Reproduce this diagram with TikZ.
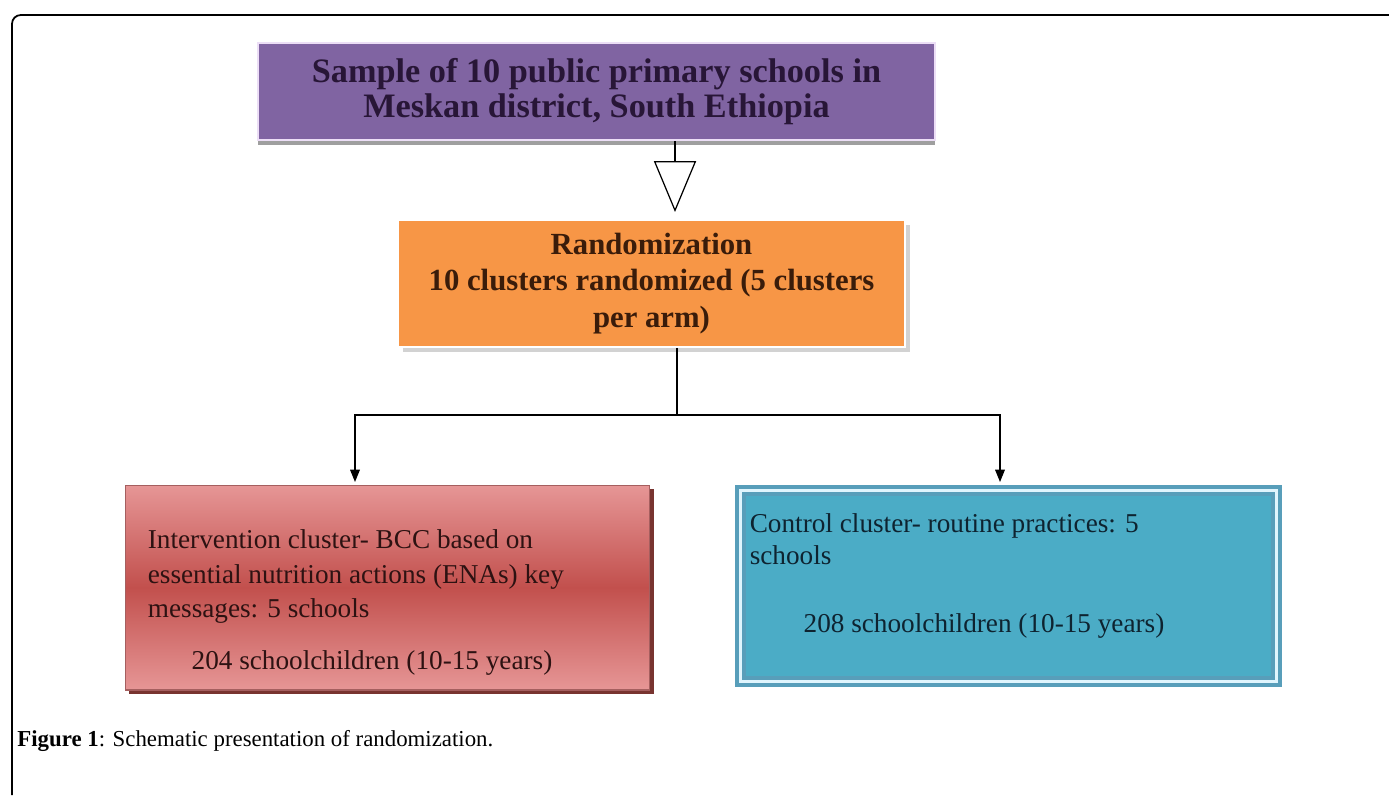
\documentclass[tikz,border=0pt]{standalone}
\usepackage{fontspec}
\setmainfont{Liberation Serif}
\usepackage{xcolor}
\usepackage{tikz}
\usetikzlibrary{arrows.meta,shadows,positioning}
\definecolor{samplebox}{RGB}{128,100,162}
\definecolor{sampleedge}{RGB}{236,222,246}
\definecolor{randbox}{RGB}{247,150,70}
\definecolor{intvlight}{RGB}{230,150,150}
\definecolor{intvdark}{RGB}{194,80,77}
\definecolor{intvedge}{RGB}{165,95,95}
\definecolor{intvshadow}{RGB}{120,52,48}
\definecolor{ctrlbox}{RGB}{75,172,198}
\definecolor{ctrledge}{RGB}{88,158,186}
\definecolor{sampleink}{RGB}{40,22,55}
\definecolor{randink}{RGB}{58,28,10}
\definecolor{intvink}{RGB}{45,18,18}
\definecolor{ctrlink}{RGB}{14,35,48}
\tikzset{
  samplestep/.style={rectangle,inner sep=0pt,align=center,
    font=\fontsize{19.5}{19.8}\selectfont\bfseries,text=sampleink,
    fill=samplebox,draw=sampleedge,line width=1.4pt,
    minimum width=13.54cm,minimum height=1.94cm,
    drop shadow={shadow xshift=0pt,shadow yshift=-3pt,fill=gray!75,opacity=1}},
  randstep/.style={rectangle,inner sep=0pt,align=center,
    font=\fontsize{17.5}{21}\selectfont\bfseries,text=randink,
    fill=randbox,draw=white,line width=1pt,
    minimum width=10.14cm,minimum height=2.54cm,
    drop shadow={shadow xshift=3pt,shadow yshift=-3pt,fill=gray!35,opacity=1}},
  intvstep/.style={rectangle,inner sep=0pt,
    top color=intvlight,bottom color=intvlight,middle color=intvdark,
    draw=intvedge,line width=0.6pt,
    minimum width=10.5cm,minimum height=4.1cm,
    drop shadow={shadow xshift=2.5pt,shadow yshift=-2.5pt,fill=intvshadow,opacity=1}},
  ctrlstep/.style={rectangle,inner sep=0pt,
    fill=ctrlbox,draw=ctrledge,double=white!88!cyan,double distance=1.5pt,line width=2.4pt,
    minimum width=10.72cm,minimum height=3.82cm},
  bodytext/.style={inner sep=0pt,align=left,font=\fontsize{15.5}{19.5}\selectfont},
  captiontext/.style={inner sep=0pt,font=\fontsize{13}{15}\selectfont},
  openarrow/.style={-{Triangle[open,length=29pt,width=24pt]},line width=0.7pt,black},
  flowline/.style={line width=0.7pt,black},
  flowarrow/.style={-{Triangle[length=7pt,width=5.5pt]},line width=0.7pt,black},
  frameline/.style={line width=1pt,black,rounded corners=5pt}
}
\begin{document}
\begin{tikzpicture}[x=0.02cm,y=-0.02cm]
  \useasboundingbox (0,0) rectangle (1389,795);
  \draw[frameline] (12,795) -- (12,15) -- (1389,15);

  \node[samplestep] (sample) at (596.5,91.5) {Sample of 10 public primary schools in\\Meskan district, South Ethiopia};
  \node[randstep] (rand) at (651.5,283.5) {Randomization\\10 clusters randomized (5 clusters\\per arm)};
  \node[intvstep] (intv) at (387.5,587.5) {};
  \node[ctrlstep] (ctrl) at (1008.5,586) {};

  \node[bodytext,text=intvink,anchor=north west] (intvtext) at ([shift={(23,45)}]intv.north west)
    {Intervention cluster- BCC based on\\essential nutrition actions (ENAs) key\\messages: 5 schools};
  \node[bodytext,text=intvink] (intvcount) at (372,663) {204 schoolchildren (10-15 years)};
  \node[bodytext,text=ctrlink,anchor=north west,font=\fontsize{15.5}{18}\selectfont] (ctrltext)
    at ([shift={(11,25)}]ctrl.north west) {Control cluster- routine practices: 5\\schools};
  \node[bodytext,text=ctrlink] (ctrlcount) at (984,626) {208 schoolchildren (10-15 years)};

  \coordinate (tri) at (675,212);
  \coordinate (split) at (677,415);
  \coordinate (ltip) at (355,482);
  \coordinate (rtip) at (1000,482);
  \draw[openarrow] (sample.south -| tri) -- (tri);
  \draw[flowline] (rand.south -| split) -- (split);
  \draw[flowarrow] (split) -| (ltip);
  \draw[flowarrow] (split) -| (rtip);

  \node[captiontext,anchor=west] (caption) at (17,741) {\textbf{Figure 1}: Schematic presentation of randomization.};
\end{tikzpicture}
\end{document}
